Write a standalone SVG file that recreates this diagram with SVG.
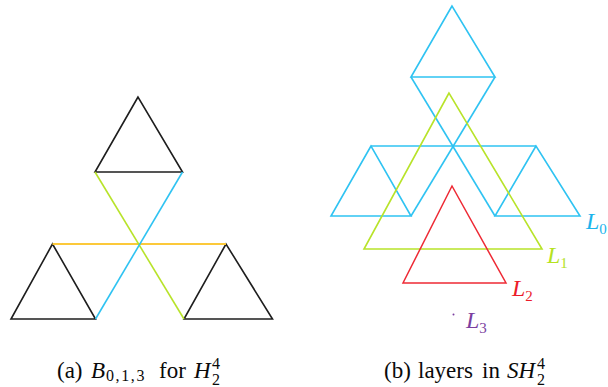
<svg xmlns="http://www.w3.org/2000/svg" width="608" height="387" viewBox="0 0 608 387" font-family="'Liberation Serif', 'Times New Roman', serif">
<style>
.k{fill:none;stroke:#1e1e1e;stroke-width:1.6;stroke-linejoin:miter}
.c{fill:none;stroke:#2fc3f2;stroke-width:1.6}
.g{fill:none;stroke:#b8e32a;stroke-width:1.6}
.r{fill:none;stroke:#ee2a35;stroke-width:1.5}
.o{fill:none;stroke:#fcc93a;stroke-width:1.8}
.lab{font-style:italic;font-size:24px}
.sub{font-style:normal;font-size:15px}
.cap{font-size:23px;fill:#0a0a0a}
.capi{font-style:italic}
.cs{font-size:16px}
</style>
<rect width="608" height="387" fill="#fff"/>
<g id="left">
  <g id="tri-top"><polygon class="k" points="138,97 95,172 182.5,172"/></g>
  <g id="tri-bl"><polygon class="k" points="52.5,244 11,319 95.5,319"/></g>
  <g id="tri-br"><polygon class="k" points="226,244 184,319 272.5,319"/></g>
  <g id="connectors-left">
    <line class="o" x1="52.5" y1="244" x2="226" y2="244"/>
    <line class="g" x1="95" y1="172" x2="184" y2="319"/>
    <line class="c" x1="182.5" y1="172" x2="95.5" y2="319"/>
  </g>
</g>
<g id="right">
  <g id="L0">
    <polygon class="c" points="452,6 411,77 495,77"/>
    <line class="c" x1="411" y1="77" x2="495" y2="216"/>
    <line class="c" x1="495" y1="77" x2="411" y2="216"/>
    <line class="c" x1="371" y1="146" x2="536" y2="146"/>
    <polygon class="c" points="371,146 331,216 411,216"/>
    <polygon class="c" points="536,146 495,216 580,216"/>
    <text class="lab" x="586" y="229" fill="#1ab4ec">L<tspan class="sub" dy="5">0</tspan></text>
  </g>
  <g id="L1">
    <polygon class="g" points="449,93 364,249 542,249"/>
    <text class="lab" x="547" y="263" fill="#b5e21f">L<tspan class="sub" dy="5">1</tspan></text>
  </g>
  <g id="L2">
    <polygon class="r" points="452,186 403,283 506,283"/>
    <text class="lab" x="512" y="296" fill="#ec1c2a">L<tspan class="sub" dy="5">2</tspan></text>
  </g>
  <g id="L3">
    <circle cx="453.5" cy="314.5" r="1" fill="#7b3fa0"/>
    <text class="lab" x="466" y="328" fill="#7b3fa0">L<tspan class="sub" dy="5">3</tspan></text>
  </g>
</g>
<g id="captions">
  <text class="cap" x="57" y="378">(a)</text>
  <text class="cap capi" x="91" y="378">B</text>
  <text class="cap cs" x="106" y="381" letter-spacing="1.6">0,1,3</text>
  <text class="cap" x="159" y="378">for</text>
  <text class="cap capi" x="194" y="378">H</text>
  <text class="cap cs" x="212" y="369">4</text>
  <text class="cap cs" x="212" y="385">2</text>
  <text class="cap" x="384" y="378">(b)</text>
  <text class="cap" x="418" y="378">layers</text>
  <text class="cap" x="482" y="378">in</text>
  <text class="cap capi" x="507" y="378">SH</text>
  <text class="cap cs" x="537" y="369">4</text>
  <text class="cap cs" x="537" y="385">2</text>
</g>
</svg>
